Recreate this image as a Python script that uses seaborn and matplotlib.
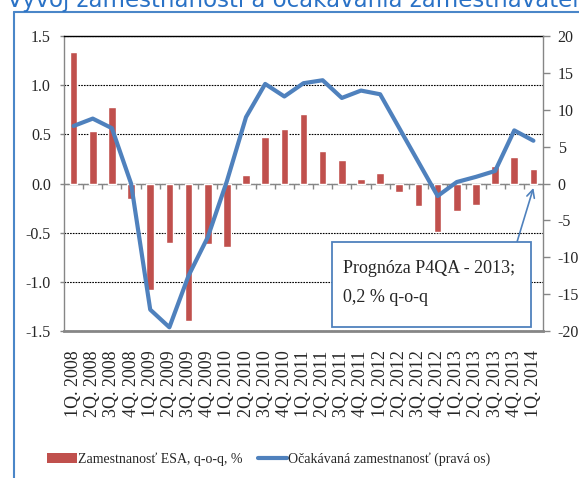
import numpy as np
import pandas as pd
import matplotlib
matplotlib.use("Agg")
import matplotlib.pyplot as plt
import seaborn as sns
from matplotlib.patches import Patch, Rectangle
from matplotlib.lines import Line2D
from matplotlib.ticker import FormatStrFormatter, MultipleLocator

quarters = ["1Q. 2008", "2Q. 2008", "3Q. 2008", "4Q. 2008",
            "1Q. 2009", "2Q. 2009", "3Q. 2009", "4Q. 2009",
            "1Q. 2010", "2Q. 2010", "3Q. 2010", "4Q. 2010",
            "1Q. 2011", "2Q. 2011", "3Q. 2011", "4Q. 2011",
            "1Q. 2012", "2Q. 2012", "3Q. 2012", "4Q. 2012",
            "1Q. 2013", "2Q. 2013", "3Q. 2013", "4Q. 2013",
            "1Q. 2014"]
esa_qoq = [1.34, 0.53, 0.78, -0.16,
           -1.08, -0.61, -1.40, -0.62,
           -0.65, 0.09, 0.47, 0.55,
           0.71, 0.33, 0.24, 0.045,
           0.11, -0.085, -0.23, -0.49,
           -0.28, -0.22, 0.18, 0.27,
           0.15]
expected = [7.8, 8.8, 7.5, 0.0,
            -17.1, -19.5, -12.5, -7.3,
            0.3, 9.0, 13.5, 11.8,
            13.6, 14.0, 11.6, 12.6,
            12.1, 7.5, 2.9, -1.7,
            0.2, 0.9, 1.7, 7.2,
            5.8]
bar_label = "Zamestnanosť ESA, q-o-q, %"
line_label = "Očakávaná zamestnanosť (pravá os)"
title_prefix = "Vývoj zamestnanosti a očakávania "
title = title_prefix + "zamestnávateľov"
note_lines = ["Prognóza P4QA - 2013;", "0,2 % q-o-q"]

df = pd.DataFrame({"q": quarters, "esa": esa_qoq, "exp": expected})
df["pos"] = np.arange(len(df))

sns.set_style("white")
plt.rcParams["font.family"] = ["Liberation Serif", "DejaVu Serif"]
plt.rcParams["axes.unicode_minus"] = False

W, H = 579, 478
fig = plt.figure(figsize=(W / 100, H / 100), dpi=100)
L, R, T, B = 64, 543, 36, 331
ax = fig.add_axes([L / W, 1 - B / H, (R - L) / W, (B - T) / H])

RED = "#C0504D"
BLUE = "#4F81BD"
GRAY = "#868686"

sns.barplot(data=df, x="q", y="esa", color=RED, saturation=1, width=0.4, ax=ax, zorder=3)
ax.set_xlim(-0.5, len(df) - 0.5)
ax.set_ylim(-1.5, 1.5)
ax.yaxis.set_major_locator(MultipleLocator(0.5))
ax.yaxis.set_major_formatter(FormatStrFormatter("%.1f"))
ax.grid(axis="y", color="black", linestyle=(0, (1.5, 1.0)), lw=0.8, zorder=0)
ax.set_axisbelow(True)
ax.axhline(0, color=GRAY, lw=1.0, zorder=2)
ax.vlines(np.arange(len(df)) + 0.5, -0.06, 0, color=GRAY, lw=1.0, zorder=2)
ax.set_xlabel("")
ax.set_ylabel("")
ax.tick_params(axis="x", length=0, pad=14, labelsize=13, rotation=90)
ax.tick_params(axis="y", length=3, width=1, color=GRAY, pad=6.5, labelsize=11.5, direction="out")
for s in ["left", "bottom"]:
    ax.spines[s].set_color(GRAY)
ax.spines["left"].set_linewidth(1.0)
ax.spines["bottom"].set_linewidth(2.0)
ax.spines["top"].set_color("black")
ax.spines["top"].set_linewidth(1.0)
ax.spines["right"].set_visible(False)

ax2 = ax.twinx()
sns.lineplot(data=df, x="pos", y="exp", color=BLUE, lw=3.0, ax=ax2, zorder=4)
ax2.set_ylim(-20, 20)
ax2.set_xlim(-0.5, len(df) - 0.5)
ax2.yaxis.set_major_locator(MultipleLocator(5))
ax2.set_ylabel("")
ax2.set_xlabel("")
ax2.tick_params(axis="y", length=5, width=1, color=GRAY, pad=5.5, labelsize=11.5, direction="out")
for s in ["left", "top", "bottom"]:
    ax2.spines[s].set_visible(False)
ax2.spines["right"].set_color(GRAY)
ax2.spines["right"].set_linewidth(1.0)

# annotation box
bx0, by0, bx1, by1 = 332, 242, 531, 327
fig.add_artist(Rectangle((bx0 / W, 1 - by1 / H), (bx1 - bx0) / W, (by1 - by0) / H,
                         transform=fig.transFigure, facecolor="white", edgecolor=BLUE, lw=1.3, zorder=10))
for line, yb in zip(note_lines, [273, 302]):
    fig.text(343 / W, 1 - yb / H, line, fontsize=13, va="baseline", ha="left", zorder=11)
ax2.annotate("", xy=(len(df) - 1, -0.6), xycoords="data",
             xytext=(517 / W, 1 - 242 / H), textcoords="figure fraction",
             arrowprops=dict(arrowstyle="->", color=BLUE, lw=1.2, shrinkA=0, shrinkB=0,
                             mutation_scale=14), zorder=12)

# legend
handles = [Patch(facecolor=RED, edgecolor="none"), Line2D([0], [0], color=BLUE, lw=3.0)]
fig.legend(handles, [bar_label, line_label], loc="center",
           bbox_to_anchor=(269 / W, 1 - 459 / H), ncol=2, frameon=False,
           handlelength=2.1, handletextpad=0.1, columnspacing=1.1, fontsize=10)

# frame and cut-off title
fig.add_artist(Line2D([14 / W, 14 / W], [0, 1 - 12 / H], transform=fig.transFigure,
                      color="#4A86C8", lw=1.5))
fig.add_artist(Line2D([14 / W, 1], [1 - 12 / H, 1 - 12 / H], transform=fig.transFigure,
                      color="#4A86C8", lw=1.5))
tfs = 16.5
renderer = fig.canvas.get_renderer()
probe = fig.text(0, 0, title_prefix.rstrip() + " ", fontsize=tfs, family=["DejaVu Sans"])
prefix_w = probe.get_window_extent(renderer).width
probe.remove()
fig.text((410 - prefix_w) / W, 1 - 7 / H, title, fontsize=tfs, color="#2A72C6", va="baseline",
         ha="left", family=["DejaVu Sans"])

fig.savefig("out.png", dpi=100)
